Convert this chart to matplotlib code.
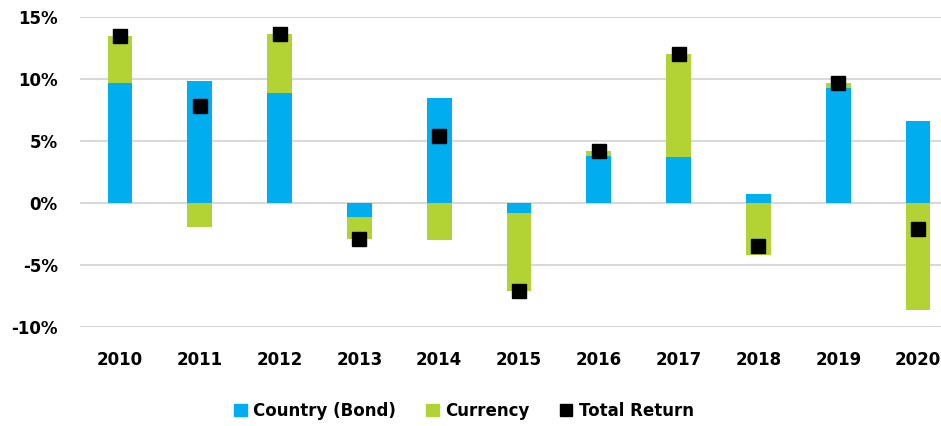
import matplotlib
matplotlib.use("Agg")
import matplotlib.pyplot as plt
from matplotlib.patches import Patch

years = ["2010", "2011", "2012", "2013", "2014", "2015", "2016", "2017", "2018", "2019", "2020"]
bond = [9.7, 9.8, 8.9, -1.1, 8.5, -0.8, 3.8, 3.7, 0.7, 9.3, 6.6]
currency = [3.8, -1.9, 4.7, -1.8, -3.0, -6.3, 0.4, 8.3, -4.2, 0.4, -8.6]
total_return = [13.5, 7.8, 13.6, -2.9, 5.4, -7.1, 4.2, 12.0, -3.5, 9.7, -2.1]
y_ticks = [-10, -5, 0, 5, 10, 15]
y_labels = ["-10%", "-5%", "0%", "5%", "10%", "15%"]

blue = "#00AEEF"
green = "#B3D335"
grid = "#D9D9D9"

plt.rcParams["font.family"] = "DejaVu Sans"
plt.rcParams["font.weight"] = "bold"

fig = plt.figure(figsize=(9.41, 4.26), dpi=100)
ax = fig.add_axes([80 / 941, 99 / 426, 878 / 941, 310 / 426])

x = list(range(len(years)))
# currency stacks on the bond bar only when both go the same way
cur_bottom = [b if (b >= 0) == (c >= 0) else 0 for b, c in zip(bond, currency)]

ax.bar(x, bond, width=0.31, color=blue, zorder=2)
ax.bar(x, currency, bottom=cur_bottom, width=0.31, color=green, zorder=2)
ax.plot(x, total_return, linestyle="none", marker="s", markersize=10,
        color="black", zorder=3)

ax.set_ylim(-10, 15)
ax.set_xlim(-0.5, len(years) - 0.5)
ax.set_yticks(y_ticks)
ax.set_yticklabels(y_labels)
ax.set_xticks(x)
ax.set_xticklabels(years)
ax.tick_params(axis="both", length=0, labelsize=12)
ax.tick_params(axis="y", pad=16)
ax.tick_params(axis="x", pad=17)
ax.grid(axis="y", color=grid, linewidth=1.5, zorder=0)
for s in ax.spines.values():
    s.set_visible(False)

handles = [
    Patch(color=blue, label="Country (Bond)"),
    Patch(color=green, label="Currency"),
    Patch(color="black", label="Total Return"),
]
fig.legend(handles=handles, loc="center", bbox_to_anchor=(464 / 941, 1 - 411 / 426),
           ncol=3, frameon=False, fontsize=12, handlelength=0.75, handleheight=0.75,
           handletextpad=0.4, columnspacing=1.8)

fig.savefig("out.png", dpi=100)
